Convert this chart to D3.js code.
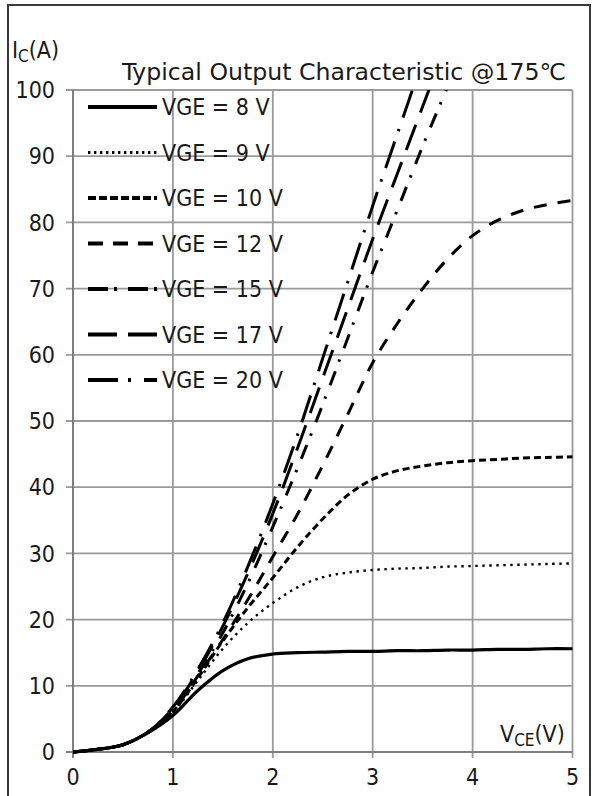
<!DOCTYPE html>
<html>
<head>
<meta charset="utf-8">
<script src="https://cdn.jsdelivr.net/npm/d3@7/dist/d3.min.js"></script>
<style>
  html, body { margin: 0; padding: 0; background: #fff; }
  svg { display: block; }
  text { font-family: "DejaVu Sans Condensed", "Liberation Sans Narrow", "Noto Sans", sans-serif; fill: #1a1a1a; }
</style>
</head>
<body>
<svg id="chart" width="593" height="796"></svg>
<script>
// Collector-emitter voltage samples (V)
const vce = [0, 0.25, 0.5, 0.75, 1, 1.25, 1.5, 1.75, 2, 2.25, 2.5, 2.75, 3, 3.25, 3.5, 3.75, 4, 4.25, 4.5, 4.75, 5];

// Collector current (A) for each gate voltage, sampled at vce
const ic8  = [0, 0.4, 1.1, 2.9, 5.5, 9.3, 12.3, 14.1, 14.8, 15.0, 15.1, 15.2, 15.2, 15.3, 15.3, 15.4, 15.4, 15.5, 15.5, 15.6, 15.6];
const ic9  = [0, 0.4, 1.1, 3.0, 6.0, 10.8, 15.6, 19.5, 22.5, 24.9, 26.4, 27.1, 27.5, 27.7, 27.8, 28.0, 28.1, 28.2, 28.3, 28.4, 28.5];
const ic10 = [0, 0.4, 1.1, 3.0, 6.1, 11.2, 16.8, 21.8, 26.3, 31.0, 35.2, 38.8, 41.2, 42.5, 43.2, 43.7, 44.0, 44.2, 44.4, 44.5, 44.6];
const ic12 = [0, 0.4, 1.1, 3.0, 6.2, 11.5, 17.0, 23.0, 29.5, 36.0, 43.3, 51.0, 58.8, 64.8, 70.0, 74.5, 78.0, 80.3, 81.8, 82.7, 83.3];
const ic15 = [0, 0.4, 1.1, 3.0, 6.4, 11.8, 18.0, 25.5, 34.0, 43.0, 52.5, 62.5, 72.5, 82.0, 91.5, 100.5, 109.5];
const ic17 = [0, 0.4, 1.1, 3.0, 6.6, 12.2, 19.0, 27.0, 36.0, 46.0, 56.5, 67.0, 77.5, 87.5, 97.5, 107.5];
const ic20 = [0, 0.4, 1.1, 3.0, 6.8, 12.5, 19.5, 28.0, 37.5, 48.0, 59.5, 71.0, 82.5, 93.5, 104.5];

const seriesNames = ["VGE = 8 V", "VGE = 9 V", "VGE = 10 V", "VGE = 12 V", "VGE = 15 V", "VGE = 17 V", "VGE = 20 V"];
const seriesValues = [ic8, ic9, ic10, ic12, ic15, ic17, ic20];

const xTicks = [0, 1, 2, 3, 4, 5];
const yTicks = [0, 10, 20, 30, 40, 50, 60, 70, 80, 90, 100];

// Line styles per gate voltage: curve width/dash and legend sample width/dash
const styles = [
  { w: 3.2, dash: null,           lw: 4.2, ldash: null },
  { w: 2.4, dash: "2.4,4.6",      lw: 3.0, ldash: "2.4,3.6" },
  { w: 3.0, dash: "7,4",          lw: 4.2, ldash: "8,3" },
  { w: 3.0, dash: "13,11",        lw: 4.2, ldash: "15,10" },
  { w: 3.0, dash: "15,10,2.5,12", lw: 4.2, ldash: "20,6,3,11" },
  { w: 3.0, dash: "27,13",        lw: 4.2, ldash: "29,11" },
  { w: 3.0, dash: "28,11,2.5,12", lw: 4.2, ldash: "30,10,3,13" }
];

const svg = d3.select("#chart");
const plotLeft = 73, plotRight = 572.5, plotTop = 90, plotBottom = 752;
const fs = 23;

const x = d3.scaleLinear().domain([0, 5]).range([plotLeft, plotRight]);
const y = d3.scaleLinear().domain([0, 100]).range([plotBottom, plotTop]);

// Outer frame
svg.append("rect")
  .attr("x", 8).attr("y", 5).attr("width", 582).attr("height", 800)
  .attr("fill", "none").attr("stroke", "#3a3a3a").attr("stroke-width", 2);

// Grid
const grid = svg.append("g").attr("stroke", "#9a9a9a").attr("stroke-width", 1.8);
grid.selectAll(".gx").data(xTicks).join("line")
  .attr("x1", d => x(d)).attr("x2", d => x(d))
  .attr("y1", y(100)).attr("y2", y(0) + 6);
grid.selectAll(".gy").data(yTicks).join("line")
  .attr("x1", x(0) - 7).attr("x2", x(5))
  .attr("y1", d => y(d)).attr("y2", d => y(d));

// Axis lines
svg.append("line").attr("x1", x(0)).attr("x2", x(0)).attr("y1", y(100)).attr("y2", y(0) + 6)
  .attr("stroke", "#666").attr("stroke-width", 1.2);
svg.append("line").attr("x1", x(0) - 7).attr("x2", x(5)).attr("y1", y(0)).attr("y2", y(0))
  .attr("stroke", "#666").attr("stroke-width", 1.2);

// Tick labels
svg.append("g").selectAll("text").data(yTicks).join("text")
  .attr("x", 55).attr("y", d => y(d)).attr("dy", "0.36em")
  .attr("text-anchor", "end").attr("font-size", fs).text(d => d);
svg.append("g").selectAll("text").data(xTicks).join("text")
  .attr("x", d => x(d)).attr("y", 785)
  .attr("text-anchor", "middle").attr("font-size", fs).text(d => d);

// Axis titles
const yt = svg.append("text").attr("x", 12).attr("y", 58).attr("font-size", fs);
yt.append("tspan").text("I");
yt.append("tspan").attr("font-size", 17).attr("dy", 4).text("C");
yt.append("tspan").attr("dy", -4).text("(A)");

const xt = svg.append("text").attr("x", 500).attr("y", 742).attr("font-size", fs);
xt.append("tspan").text("V");
xt.append("tspan").attr("font-size", 17).attr("dy", 4).text("CE");
xt.append("tspan").attr("dy", -4).text("(V)");

// Title
svg.append("text").attr("x", 122).attr("y", 80).attr("font-size", fs)
  .attr("textLength", 444).attr("lengthAdjust", "spacingAndGlyphs")
  .attr("fill", "#111").text("Typical Output Characteristic @175\u2103");

// Curves, clipped to the plot area
svg.append("clipPath").attr("id", "plot-clip").append("rect")
  .attr("x", plotLeft).attr("y", plotTop).attr("width", plotRight - plotLeft + 2).attr("height", plotBottom - plotTop + 4);

const line = d3.line()
  .x((d, i) => x(vce[i]))
  .y(d => y(d))
  .curve(d3.curveCatmullRom.alpha(0.5));

svg.append("g").attr("clip-path", "url(#plot-clip)")
  .selectAll("path").data(seriesValues).join("path")
  .attr("d", d => line(d))
  .attr("fill", "none").attr("stroke", "#000")
  .attr("stroke-width", (d, i) => styles[i].w)
  .attr("stroke-dasharray", (d, i) => styles[i].dash)
  .attr("stroke-linecap", "butt");

// Legend
const legend = svg.append("g");
const rowY = i => 107 + i * 45.5;
legend.selectAll("line").data(seriesNames).join("line")
  .attr("x1", 88).attr("x2", 157)
  .attr("y1", (d, i) => rowY(i)).attr("y2", (d, i) => rowY(i))
  .attr("stroke", "#000")
  .attr("stroke-width", (d, i) => styles[i].lw)
  .attr("stroke-dasharray", (d, i) => styles[i].ldash);
legend.selectAll("text").data(seriesNames).join("text")
  .attr("x", 162).attr("y", (d, i) => rowY(i)).attr("dy", "0.36em")
  .attr("font-size", fs).text(d => d);
</script>
</body>
</html>
